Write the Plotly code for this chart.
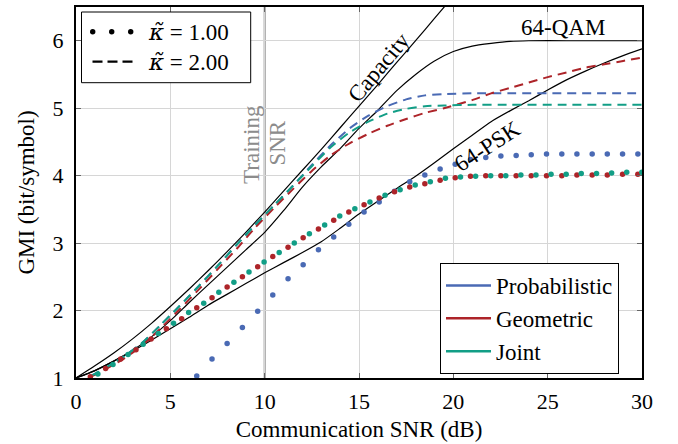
import plotly.graph_objects as go

# ---------------- data ----------------
snr_cap = [0, 1, 2, 3, 4, 5, 6, 7, 8, 9, 10, 11, 12, 13, 14, 15, 16, 17, 18, 19, 20]
capacity = [1.00, 1.18, 1.37, 1.58, 1.81, 2.06, 2.32, 2.59, 2.87, 3.16, 3.46, 3.77, 4.08,
            4.39, 4.71, 5.03, 5.35, 5.68, 6.00, 6.33, 6.66]

snr_qam = [0, 1, 2, 3, 4, 5, 6, 7, 8, 9, 10, 11, 12, 13, 14, 15, 16, 17, 18, 19, 20,
           21, 22, 23, 24, 26, 28, 30]
qam64 = [1.00, 1.11, 1.25, 1.41, 1.61, 1.85, 2.12, 2.38, 2.64, 2.90, 3.16, 3.48, 3.83,
         4.13, 4.40, 4.70, 4.97, 5.26, 5.50, 5.70, 5.84, 5.92, 5.96, 5.99, 6.00, 6.00,
         6.00, 6.00]

snr_psk = list(range(0, 31))
psk64 = [1.00, 1.11, 1.25, 1.40, 1.56, 1.73, 1.90, 2.08, 2.24, 2.40, 2.56, 2.71, 2.86,
         3.02, 3.22, 3.43, 3.62, 3.81, 3.99, 4.19, 4.40, 4.60, 4.80, 4.96, 5.11, 5.27,
         5.42, 5.55, 5.67, 5.78, 5.88]

# kappa = 1.00 (dotted / markers)
snr_dots_a = [0.76, 1.57, 2.37, 3.18, 3.98, 4.79, 5.60, 6.40, 7.21, 8.01, 8.82, 9.63,
              10.43, 11.24, 12.04, 12.85, 13.66, 14.46, 15.27, 16.07, 16.88, 17.69,
              18.49, 19.30, 20.10, 20.91, 21.72, 22.52, 23.33, 24.13, 24.94, 25.75,
              26.55, 27.36, 28.16, 28.97, 29.78]
geo_k1 = [1.02, 1.14, 1.28, 1.42, 1.58, 1.73, 1.88, 2.04, 2.19, 2.35, 2.50, 2.65, 2.80,
          2.94, 3.08, 3.21, 3.34, 3.46, 3.57, 3.67, 3.76, 3.83, 3.88, 3.93, 3.97, 3.99,
          4.00, 4.00, 4.00, 4.00, 4.00, 4.00, 4.01, 4.01, 4.01, 4.02, 4.02]
snr_dots_p = snr_dots_a[7:]
prob_k1 = [1.03, 1.28, 1.51, 1.75, 1.99, 2.23, 2.47, 2.68, 2.90, 3.09, 3.28, 3.46, 3.61,
           3.77, 3.91, 4.01, 4.10, 4.17, 4.24, 4.27, 4.29, 4.30, 4.31, 4.32, 4.32, 4.32,
           4.32, 4.32, 4.32, 4.32]
snr_dots_b = [1.16, 1.96, 2.76, 3.56, 4.36, 5.17, 5.97, 6.77, 7.57, 8.37, 9.17, 9.97,
              10.77, 11.57, 12.37, 13.18, 13.98, 14.78, 15.58, 16.38, 17.18, 17.98,
              18.78, 19.58, 20.38, 21.18, 21.98, 22.78, 23.58, 24.38, 25.18, 25.98,
              26.78, 27.59, 28.39, 29.19, 29.99]
joint_k1 = [1.06, 1.20, 1.35, 1.50, 1.66, 1.81, 1.97, 2.11, 2.27, 2.42, 2.57, 2.72, 2.86,
            3.00, 3.14, 3.27, 3.40, 3.51, 3.61, 3.71, 3.79, 3.86, 3.91, 3.96, 3.98, 3.99,
            4.00, 4.00, 4.01, 4.01, 4.02, 4.02, 4.03, 4.03, 4.04, 4.05, 4.05]

# kappa = 2.00 (dashed)
snr_dash = [0.8, 1.5, 2.5, 3.5, 4.5, 5.5, 6.5, 7.5, 8.5, 9.5, 10.5, 11.5, 12.5, 13.5,
            14.5, 15.5, 16.5, 17.5, 18.5, 19.5, 21, 23, 26, 30]
prob_k2 = [1.03, 1.14, 1.31, 1.52, 1.79, 2.07, 2.36, 2.66, 2.97, 3.27, 3.56, 3.85, 4.16,
           4.45, 4.70, 4.89, 5.03, 5.13, 5.19, 5.21, 5.22, 5.22, 5.22, 5.22]
joint_k2 = [1.03, 1.14, 1.31, 1.52, 1.79, 2.07, 2.36, 2.66, 2.97, 3.27, 3.56, 3.85, 4.14,
            4.42, 4.64, 4.80, 4.92, 4.99, 5.03, 5.04, 5.05, 5.05, 5.05, 5.05]
snr_dash_g = [0.8, 1.5, 2.5, 3.5, 4.5, 5.5, 6.5, 7.5, 8.5, 9.5, 10.5, 11.5, 12.5, 13.5,
              14.5, 15.5, 16.5, 17.5, 18.5, 19.5, 21, 22, 23, 24, 25, 26, 27, 28, 29, 30]
geo_k2 = [1.02, 1.12, 1.28, 1.48, 1.74, 2.02, 2.31, 2.61, 2.91, 3.23, 3.52, 3.80, 4.07,
          4.30, 4.48, 4.62, 4.74, 4.84, 4.93, 5.00, 5.12, 5.22, 5.30, 5.38, 5.46, 5.53,
          5.60, 5.65, 5.70, 5.75]

x_ticks = [0, 5, 10, 15, 20, 25, 30]
y_ticks = [1, 2, 3, 4, 5, 6]
training_snr = 10

BLUE = '#4a6ab4'
RED = '#ad2429'
TEAL = '#129e86'
FONT = 'Liberation Serif'
DASH = '9px,6px'

fig = go.Figure()

# reference curves
for xs, ys in [(snr_cap, capacity), (snr_qam, qam64), (snr_psk, psk64)]:
    fig.add_trace(go.Scatter(x=xs, y=ys, mode='lines', showlegend=False,
                             line=dict(color='black', width=1.2, shape='spline', smoothing=0.6),
                             hoverinfo='skip'))

# kappa = 2 dashed
for xs, ys, c in [(snr_dash, prob_k2, BLUE), (snr_dash_g, geo_k2, RED), (snr_dash, joint_k2, TEAL)]:
    fig.add_trace(go.Scatter(x=xs, y=ys, mode='lines', showlegend=False,
                             line=dict(color=c, width=2, dash=DASH, shape='spline', smoothing=0.6)))

# kappa = 1 dotted
for xs, ys, c in [(snr_dots_p, prob_k1, BLUE), (snr_dots_a, geo_k1, RED), (snr_dots_b, joint_k1, TEAL)]:
    fig.add_trace(go.Scatter(x=xs, y=ys, mode='markers', showlegend=False,
                             marker=dict(color=c, size=5.5, line=dict(width=0))))

# legend entries (scheme legend)
for name, c in [('Probabilistic', BLUE), ('Geometric', RED), ('Joint', TEAL)]:
    fig.add_trace(go.Scatter(x=[None], y=[None], mode='lines', name=name,
                             line=dict(color=c, width=2.5)))

# plot area in pixels for paper coordinate conversion
L, R, T, B = 76, 36, 7, 66
W, H = 678, 444
pw, ph = W - L - R, H - T - B


def px(xp):
    return (xp - L) / pw


def py(yp):
    return (H - B - yp) / ph


shapes = [
    dict(type='line', xref='x', yref='paper', x0=training_snr, x1=training_snr, y0=0, y1=1,
         line=dict(color='#8c8c8c', width=2), layer='between'),
    dict(type='rect', xref='paper', yref='paper', x0=px(81.5), x1=px(250.7),
         y0=py(82.7), y1=py(12), fillcolor='white', line=dict(color='black', width=1),
         layer='above'),
    dict(type='line', xref='paper', yref='paper', x0=px(92.5), x1=px(132.5),
         y0=py(61.7), y1=py(61.7), line=dict(color='black', width=2.2, dash='10px,5px'),
         layer='above'),
]
for xd in [92.7, 111.7, 130.7]:
    shapes.append(dict(type='circle', xref='paper', yref='paper', xsizemode='pixel',
                       ysizemode='pixel', xanchor=px(xd), yanchor=py(31.7),
                       x0=-2.7, x1=2.7, y0=-2.7, y1=2.7, fillcolor='black',
                       line=dict(width=0), layer='above'))

ann_font = dict(family=FONT, size=23, color='black')
kappa = '<span style="font-family:DejaVu Serif"><i>κ̃</i></span>'
annotations = [
    dict(text=kappa + ' = 1.00', xref='paper', yref='paper', x=px(146), y=py(31.7),
         xanchor='left', yanchor='middle', showarrow=False, font=ann_font),
    dict(text=kappa + ' = 2.00', xref='paper', yref='paper', x=px(146), y=py(61.7),
         xanchor='left', yanchor='middle', showarrow=False, font=ann_font),
    dict(text='Capacity', x=16.05, y=5.60, showarrow=False, textangle=-50, font=ann_font),
    dict(text='64-QAM', x=25.8, y=6.19, showarrow=False, font=ann_font),
    dict(text='64-PSK', x=21.8, y=4.43, showarrow=False, textangle=-33, font=ann_font),
    dict(text='Training', x=9.29, y=4.46, showarrow=False, textangle=-90,
         font=dict(family=FONT, size=23, color='#8c8c8c')),
    dict(text='SNR', x=10.67, y=4.48, showarrow=False, textangle=-90,
         font=dict(family=FONT, size=23, color='#8c8c8c')),
]

axis_common = dict(showgrid=True, gridcolor='#d6d6d6', gridwidth=1, zeroline=False,
                   showline=True, linecolor='black', linewidth=2, mirror='ticks',
                   ticks='inside', ticklen=5, tickcolor='#666666', automargin=False,
                   tickfont=dict(family=FONT, size=22, color='black'))

fig.update_layout(
    width=W, height=H,
    margin=dict(l=L, r=R, t=T, b=B),
    paper_bgcolor='white', plot_bgcolor='white',
    font=dict(family=FONT, size=22, color='black'),
    xaxis=dict(range=[0, 30], tickvals=x_ticks, ticklabelstandoff=3,
               title=dict(text='Communication SNR (dB)', font=dict(family=FONT, size=23),
                          standoff=7),
               **axis_common),
    yaxis=dict(range=[1, 6.5], tickvals=y_ticks, ticklabelstandoff=6,
               title=dict(text='GMI (bit/symbol)', font=dict(family=FONT, size=23),
                          standoff=12),
               **axis_common),
    legend=dict(x=px(440), y=py(374), xanchor='left', yanchor='bottom',
                bordercolor='black', borderwidth=1, bgcolor='white',
                font=dict(family=FONT, size=23, color='black'),
                itemwidth=45, tracegroupgap=0),
    shapes=shapes,
    annotations=annotations,
    hovermode=False,
)

fig.write_html('out.html', post_script="document.body.style.margin='0px';",
               config={'displayModeBar': False})
